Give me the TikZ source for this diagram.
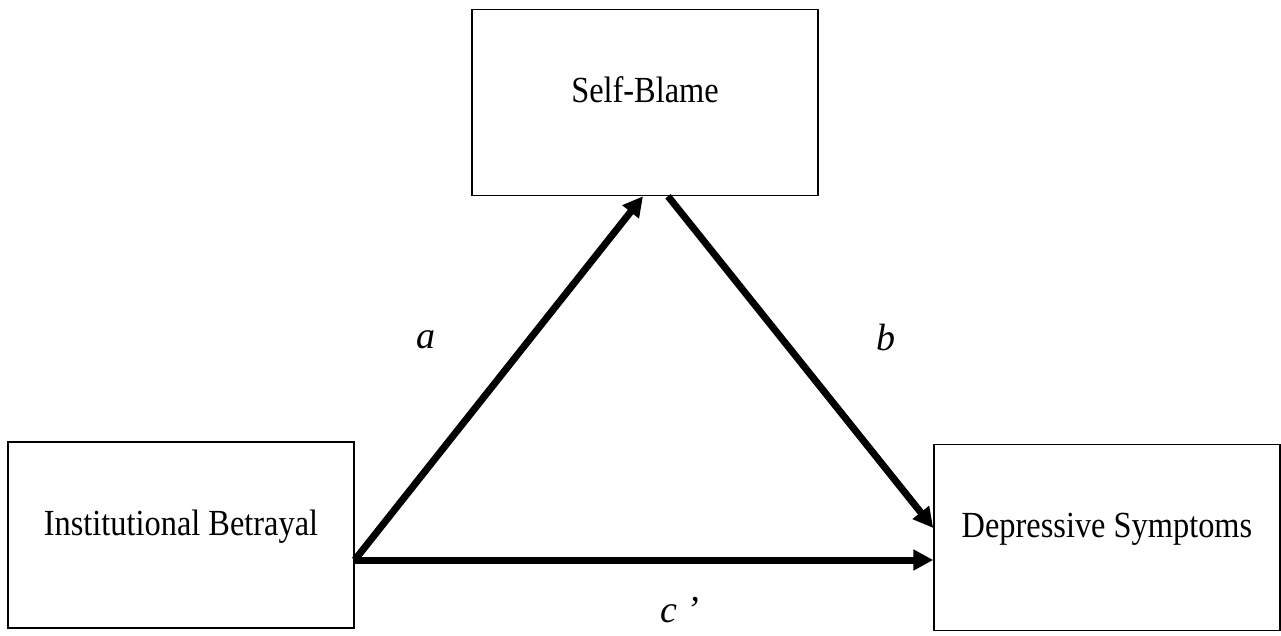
\documentclass[tikz,border=0pt]{standalone}
\usepackage{fontspec}
\setmainfont{Liberation Serif}
\newfontfamily\boxfont[FakeStretch=0.88]{Liberation Serif}
\usepackage{tikz}
\usetikzlibrary{arrows.meta, calc}
\tikzstyle{block} = [rectangle, draw, line width=0.75pt,
    minimum width=173pt, minimum height=93pt,
    text height=12pt, text depth=12pt,
    font=\boxfont\fontsize{18.4}{21}\selectfont]
\tikzstyle{arrow} = [-{Triangle[length=10pt, width=10pt]}, line width=3.5pt]
\tikzstyle{coef} = [font=\fontsize{19}{22}\selectfont\itshape]

\begin{document}
\begin{tikzpicture}[x=0.5pt, y=-0.5pt]
    \useasboundingbox (0,0) rectangle (1281,636);
    % Variables
    \node[block] (blame) at (645,102.5) {Self-Blame};
    \node[block] (betrayal) at (181,535) {Institutional Betrayal};
    \node[block] (symptoms) at (1107,537.5) {Depressive Symptoms};

    % Paths
    \draw[arrow] ([yshift=-12.5pt]betrayal.east) -- ([xshift=-1pt]blame.south);
    \draw[arrow] ([xshift=11.5pt]blame.south) -- ([yshift=4.75pt]symptoms.west);
    \draw[arrow] ([yshift=-12.5pt]betrayal.east) -- ([yshift=-11.25pt]symptoms.west);

    % Coefficients
    \node[coef] (a) at (426,340) {a};
    \node[coef] (b) at (886,338) {b};
    \node[coef] (c) at (680,610) {c ’};
\end{tikzpicture}
\end{document}
